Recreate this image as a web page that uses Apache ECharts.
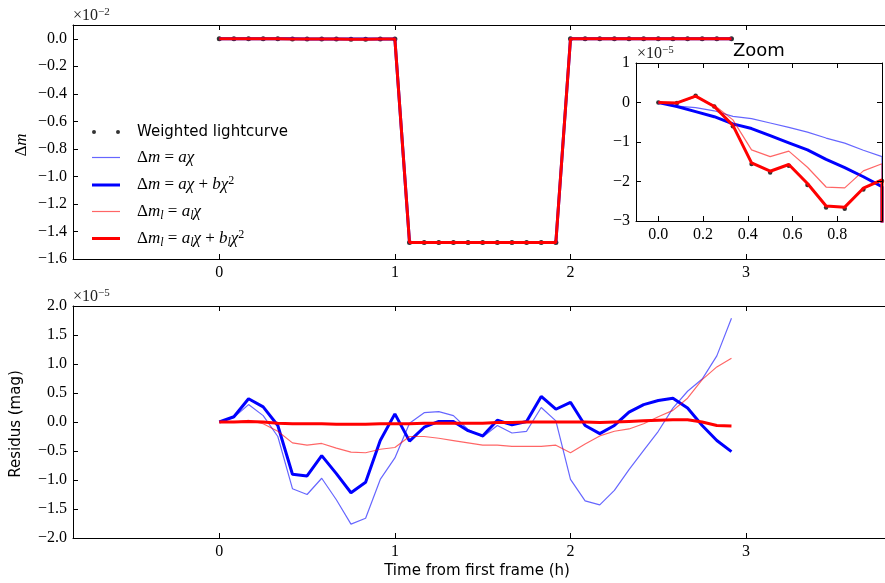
<!DOCTYPE html>
<html>
<head>
<meta charset="utf-8">
<script src="https://cdn.jsdelivr.net/npm/echarts@6/dist/echarts.min.js"></script>
<style>html,body{margin:0;padding:0;background:#fff;}#c{width:885px;height:583px;}</style>
</head>
<body>
<div id="c"></div>
<script>
// ---- data ----
const times = [0, 0.0833, 0.1667, 0.25, 0.3333, 0.4167, 0.5, 0.5833, 0.6667, 0.75, 0.8333, 0.9167, 1.0,
  1.0833, 1.1667, 1.25, 1.3333, 1.4167, 1.5, 1.5833, 1.6667, 1.75, 1.8333, 1.9167,
  2.0, 2.0833, 2.1667, 2.25, 2.3333, 2.4167, 2.5, 2.5833, 2.6667, 2.75, 2.8333, 2.9167];
// weighted lightcurve (units 1e-2 mag)
const lcMain = [0, 0, 0, 0, 0, 0, 0, 0, 0, 0, 0, 0, 0,
  -1.48, -1.48, -1.48, -1.48, -1.48, -1.48, -1.48, -1.48, -1.48, -1.48, -1.48,
  0, 0, 0, 0, 0, 0, 0, 0, 0, 0, 0, 0];
// first plateau of the lightcurve as seen in the zoom (units 1e-5 mag)
const lcZoom = [0, -0.01, 0.17, -0.10, -0.60, -1.56, -1.77, -1.60, -2.09, -2.66, -2.69, -2.20, -1.99];
// residuals (units 1e-5 mag)
const resLinear = [0, 0.08, 0.30, 0.11, -0.25, -1.15, -1.25, -0.97, -1.34, -1.76, -1.66, -0.99, -0.62,
  -0.02, 0.16, 0.18, 0.11, -0.13, -0.26, -0.06, -0.19, -0.16, 0.25, 0.02,
  -0.99, -1.36, -1.43, -1.18, -0.82, -0.49, -0.16, 0.24, 0.53, 0.74, 1.14, 1.79];
const resQuad = [0, 0.09, 0.40, 0.26, -0.06, -0.90, -0.93, -0.58, -0.89, -1.22, -1.04, -0.32, 0.14,
  -0.33, -0.09, 0.01, 0.01, -0.15, -0.24, 0.03, -0.05, 0.01, 0.44, 0.22,
  0.34, -0.06, -0.20, -0.06, 0.17, 0.30, 0.37, 0.41, 0.24, -0.06, -0.32, -0.51];
const resLinearL = [0, 0.0, 0.03, -0.03, -0.16, -0.36, -0.40, -0.37, -0.45, -0.52, -0.53, -0.47, -0.44,
  -0.25, -0.25, -0.28, -0.32, -0.36, -0.40, -0.40, -0.42, -0.42, -0.42, -0.40,
  -0.53, -0.38, -0.24, -0.16, -0.12, -0.03, 0.09, 0.20, 0.41, 0.73, 0.95, 1.10];
const resQuadL = [0, 0.0, 0.01, 0.0, -0.02, -0.03, -0.03, -0.03, -0.04, -0.04, -0.04, -0.03, -0.03,
  -0.03, -0.02, -0.02, -0.02, -0.02, -0.02, -0.01, -0.01, 0.0, 0.0, 0.0,
  0.0, 0.0, -0.01, 0.0, 0.01, 0.02, 0.03, 0.04, 0.04, 0.0, -0.06, -0.07];
// tick labels
const mainXTicks = [0, 1, 2, 3];
const topYTicks = [-1.6, -1.4, -1.2, -1.0, -0.8, -0.6, -0.4, -0.2, 0.0];
const resYTicks = [-2.0, -1.5, -1.0, -0.5, 0.0, 0.5, 1.0, 1.5, 2.0];
const zoomXTicks = [0.0, 0.2, 0.4, 0.6, 0.8];
const zoomYTicks = [-3, -2, -1, 0, 1];

// ---- styles ----
const serif = "'Liberation Serif','DejaVu Serif',serif";
const sans = "'DejaVu Sans',sans-serif";
const models = [
  {key: 'm1', res: resLinear, color: 'rgba(0,0,255,0.6)', width: 1.2},
  {key: 'm2', res: resQuad, color: '#0000ff', width: 3},
  {key: 'm3', res: resLinearL, color: 'rgba(255,0,0,0.6)', width: 1.2},
  {key: 'm4', res: resQuadL, color: '#ff0000', width: 3}
];
const minus = s => s.replace('-', '\u2212');
const fmt = d => v => { if (Math.abs(v) < 1e-9) v = 0; return minus(v.toFixed(d)); };

const lcTop = times.map((t, k) => k < 13 ? lcZoom[k] / 1000 : lcMain[k]);
const lcIn = times.map((t, k) => k < 13 ? lcZoom[k] : lcMain[k] * 1000);

function ax(grid, min, max, ticks, pos, showLabel, dec) {
  return {
    type: 'value', gridIndex: grid, min: min, max: max, position: pos,
    axisLine: {show: true, onZero: false, lineStyle: {color: '#000', width: 1}},
    axisTick: {show: true, inside: true, length: 5, customValues: ticks, lineStyle: {color: '#000'}},
    axisLabel: {show: showLabel, customValues: ticks, fontFamily: serif, fontSize: 16, color: '#000', margin: 6,
      formatter: fmt(dec)},
    splitLine: {show: false}
  };
}

const series = [];
// top panel
series.push({type: 'scatter', name: 'lc', xAxisIndex: 0, yAxisIndex: 0, symbolSize: 5,
  itemStyle: {color: '#000'}, data: times.map((t, k) => [t, lcTop[k]]), z: 2});
models.forEach(m => series.push({type: 'line', name: m.key, xAxisIndex: 0, yAxisIndex: 0, symbol: 'none',
  lineStyle: {color: m.color, width: m.width}, itemStyle: {color: m.color},
  data: times.map((t, k) => [t, lcTop[k] - m.res[k] / 1000]), z: 3}));
// residual panel
models.forEach(m => series.push({type: 'line', name: 'r_' + m.key, xAxisIndex: 2, yAxisIndex: 1, symbol: 'none',
  lineStyle: {color: m.color, width: m.width}, itemStyle: {color: m.color},
  data: times.map((t, k) => [t, m.res[k]]), z: 3}));
// zoom inset
series.push({type: 'scatter', name: 'z_lc', xAxisIndex: 4, yAxisIndex: 2, symbolSize: 4.5, clip: true,
  itemStyle: {color: '#000'}, data: times.map((t, k) => [t, lcIn[k]]), z: 5});
models.forEach(m => series.push({type: 'line', name: 'z_' + m.key, xAxisIndex: 4, yAxisIndex: 2, symbol: 'none', clip: true,
  lineStyle: {color: m.color, width: m.width}, itemStyle: {color: m.color},
  data: times.map((t, k) => [t, lcIn[k] - m.res[k]]), z: 6}));

const legendLabels = {
  lc: '{g|}{s|Weighted lightcurve}',
  m1: '{g|}{r|\u0394}{i|m}{r| = }{i|a\u03c7}',
  m2: '{g|}{r|\u0394}{i|m}{r| = }{i|a\u03c7}{r| + }{i|b\u03c7}{sup|2}',
  m3: '{g|}{r|\u0394}{i|m}{sub|l}{r| = }{i|a}{sub|l}{i|\u03c7}',
  m4: '{g|}{r|\u0394}{i|m}{sub|l}{r| = }{i|a}{sub|l}{i|\u03c7}{r| + }{i|b}{sub|l}{i|\u03c7}{sup|2}'
};
const legendRich = {
  g: {width: 12},
  s: {fontFamily: sans, fontSize: 15, lineHeight: 20, color: '#000'},
  r: {fontFamily: serif, fontSize: 17, lineHeight: 20, color: '#000'},
  i: {fontFamily: serif, fontStyle: 'italic', fontSize: 17, lineHeight: 20, color: '#000'},
  sup: {fontFamily: serif, fontSize: 12, lineHeight: 12, verticalAlign: 'top', color: '#000'},
  sub: {fontFamily: serif, fontStyle: 'italic', fontSize: 12, lineHeight: 12, verticalAlign: 'bottom', color: '#000'}
};
const legendIcons = {
  lc: 'path://M0,2A2,2,0,1,1,4,2A2,2,0,1,1,0,2ZM24,2A2,2,0,1,1,28,2A2,2,0,1,1,24,2Z',
  m1: 'path://M0,0H28V1.2H0Z',
  m2: 'path://M0,0H28V3H0Z',
  m3: 'path://M0,0H28V1.2H0Z',
  m4: 'path://M0,0H28V3H0Z'
};
const legendOrder = ['lc', 'm1', 'm2', 'm3', 'm4'];
const legendTops = [124.5, 149, 175, 203, 228.5];
const legends = legendOrder.map((n, i) => ({
  show: true, left: 92, top: legendTops[i], itemWidth: 28, itemHeight: 20, itemGap: 0,
  selectedMode: false, symbolKeepAspect: true, padding: 0,
  data: [{name: n, icon: legendIcons[n]}],
  formatter: nm => legendLabels[nm],
  textStyle: {color: '#000', rich: legendRich}
}));

const sci = (txt, x, y) => ({
  type: 'text', x: x, y: y, z: 50,
  style: {text: '{a|\u00d710}{b|' + txt + '}', textVerticalAlign: 'middle',
    rich: {a: {fontFamily: serif, fontSize: 16, fill: '#222', lineHeight: 18},
           b: {fontFamily: serif, fontSize: 11, fill: '#222', verticalAlign: 'top', lineHeight: 12}}}
});

const option = {
  animation: false,
  backgroundColor: '#fff',
  grid: [
    {left: 73, top: 25, width: 812, height: 234},
    {left: 73, top: 306, width: 812, height: 232},
    {left: 636, top: 63, width: 246, height: 158, show: true, backgroundColor: '#fff', borderWidth: 0, z: 4}
  ],
  xAxis: [
    ax(0, -0.833, 3.791, mainXTicks, 'bottom', true, 0),
    ax(0, -0.833, 3.791, mainXTicks, 'top', false, 0),
    ax(1, -0.833, 3.791, mainXTicks, 'bottom', true, 0),
    ax(1, -0.833, 3.791, mainXTicks, 'top', false, 0),
    Object.assign(ax(2, -0.1, 1.0, zoomXTicks, 'bottom', true, 1), {z: 7}),
    Object.assign(ax(2, -0.1, 1.0, zoomXTicks, 'top', false, 1), {z: 7})
  ],
  yAxis: [
    ax(0, -1.6, 0.1, topYTicks, 'left', true, 1),
    ax(1, -2, 2, resYTicks, 'left', true, 1),
    Object.assign(ax(2, -3, 1, zoomYTicks, 'left', true, 0), {z: 7}),
    Object.assign(ax(2, -3, 1, zoomYTicks, 'right', false, 0), {z: 7})
  ],
  legend: legends,
  graphic: [
    sci('\u22122', 73, 16),
    sci('\u22125', 73, 297),
    sci('\u22125', 637, 54),
    {type: 'text', x: 733, y: 51, z: 50, style: {text: 'Zoom', fontFamily: sans, fontSize: 18, fill: '#000', textVerticalAlign: 'middle'}},
    {type: 'text', x: 477, y: 571, z: 50, style: {text: 'Time from first frame (h)', fontFamily: sans, fontSize: 15, fill: '#000', textAlign: 'center', textVerticalAlign: 'middle'}},
    {type: 'text', x: 16, y: 424, rotation: Math.PI / 2, z: 50, style: {text: 'Residus (mag)', fontFamily: sans, fontSize: 15, fill: '#000', textAlign: 'center', textVerticalAlign: 'middle'}},
    {type: 'text', x: 22, y: 145, rotation: Math.PI / 2, z: 50, style: {text: '{r|\u0394}{i|m}', textAlign: 'center', textVerticalAlign: 'middle',
      rich: {r: {fontFamily: serif, fontSize: 17, fill: '#000'}, i: {fontFamily: serif, fontStyle: 'italic', fontSize: 17, fill: '#000'}}}}
  ],
  series: series
};
const chart = echarts.init(document.getElementById('c'), null, {renderer: 'canvas'});
chart.setOption(option);
</script>
</body>
</html>
